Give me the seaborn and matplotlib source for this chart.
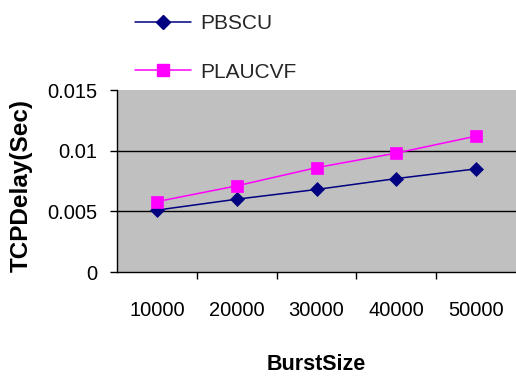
import matplotlib
matplotlib.use("Agg")
import matplotlib.pyplot as plt
from matplotlib.ticker import FixedLocator
import seaborn as sns
import pandas as pd

# Burst sizes on the x axis and mean TCP delay (seconds) per scheme
burst_sizes = ["10000", "20000", "30000", "40000", "50000"]
pbscu = [0.0051, 0.0060, 0.0068, 0.0077, 0.0085]
plaucvf = [0.0058, 0.0071, 0.0086, 0.0098, 0.0112]
series_names = ["PBSCU", "PLAUCVF"]
y_ticks = [0, 0.005, 0.01, 0.015]
y_tick_labels = ["0", "0.005", "0.01", "0.015"]

df = pd.DataFrame({
    "BurstSize": burst_sizes * 2,
    "Delay": pbscu + plaucvf,
    "Scheme": [series_names[0]] * len(burst_sizes) + [series_names[1]] * len(burst_sizes),
})

sns.set_theme(style="white")
plt.rcParams["font.family"] = ["Liberation Sans", "DejaVu Sans"]

W, H = 516, 377
fig = plt.figure(figsize=(W / 100, H / 100), dpi=100)
ax = fig.add_axes([117 / W, (H - 272) / H, (W - 117) / W, 182 / H])
ax.set_facecolor("#C0C0C0")

palette = {"PBSCU": "#000080", "PLAUCVF": "#FF00FF"}
markers = {"PBSCU": "D", "PLAUCVF": "s"}
sns.lineplot(data=df, x="BurstSize", y="Delay", hue="Scheme", style="Scheme",
             palette=palette, markers=markers, dashes=False, sort=False,
             linewidth=1.1, markeredgewidth=0.5, ax=ax, legend=False)

sizes = {"PBSCU": 7.5, "PLAUCVF": 8.5}
for line, name in zip(ax.lines, series_names):
    line.set_markersize(sizes[name])
    line.set_markeredgecolor(palette[name])
    line.set_zorder(3)

ax.set_xlim(-0.5, len(burst_sizes) - 0.5)
ax.set_ylim(0, 0.015)
ax.set_yticks(y_ticks)
ax.set_yticklabels(y_tick_labels)

# horizontal gridlines at the interior y ticks
for yv in y_ticks[1:-1]:
    ax.axhline(yv, color="black", linewidth=1.0, zorder=1)

for side in ["top", "right"]:
    ax.spines[side].set_visible(False)
for side in ["left", "bottom"]:
    ax.spines[side].set_color("black")
    ax.spines[side].set_linewidth(1.0)

# category labels without ticks; divider ticks between categories
ax.tick_params(axis="x", which="major", length=0, pad=21, labelsize=14.5, colors="black")
ax.xaxis.set_minor_locator(FixedLocator([i + 0.5 for i in range(len(burst_sizes) - 1)]))
ax.tick_params(axis="x", which="minor", bottom=True, length=5, width=1, color="black", direction="out")
ax.tick_params(axis="y", left=True, length=5, width=1, color="black", direction="out",
               pad=9, labelsize=14.5, labelcolor="black")

ax.set_xlabel("BurstSize", fontsize=15.5, fontweight="bold", labelpad=24, color="black")
ax.set_ylabel("TCPDelay(Sec)", fontsize=17.5, fontweight="bold", color="black")
ax.yaxis.set_label_coords(-0.21, 0.475)

handles = [plt.Line2D([], [], color=palette[n], marker=markers[n], markersize=sizes[n] - 0.5,
                      markeredgecolor=palette[n], linewidth=1.1) for n in series_names]
fig.legend(handles, series_names, loc="upper left",
           bbox_to_anchor=(135 / W, 1 - 14 / H), frameon=False, fontsize=15,
           handlelength=2.7, handletextpad=0.45, labelspacing=1.42,
           borderpad=0, borderaxespad=0)

fig.savefig("out.png", dpi=100, facecolor="white")
